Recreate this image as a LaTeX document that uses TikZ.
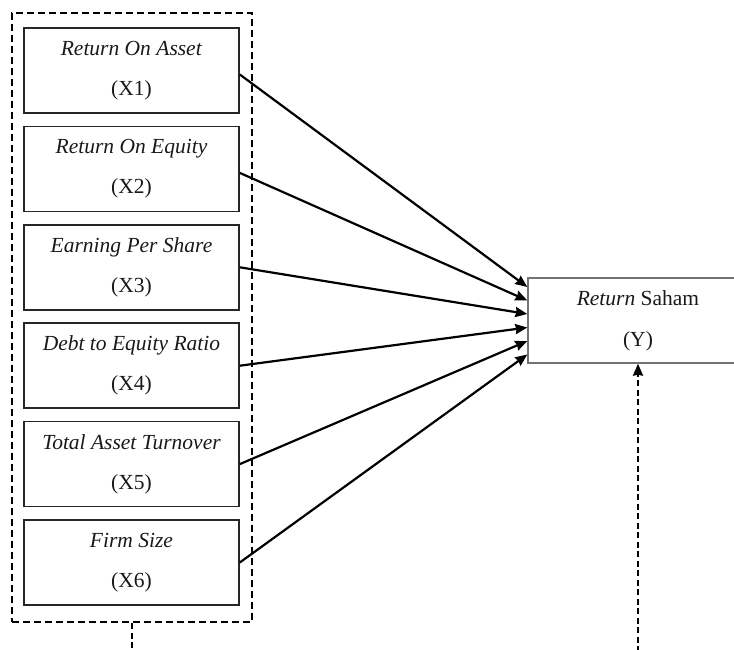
\documentclass[tikz,border=0pt]{standalone}
\usepackage{fontspec}
\setmainfont{Liberation Serif}
\usetikzlibrary{arrows.meta}
\tikzset{
  varbox/.style={draw=black!85, line width=1.6pt, minimum width=215pt, minimum height=85pt,
    align=center, inner sep=0pt, font=\fontsize{21.5}{40}\selectfont, text=black!90},
  ybox/.style={draw=black!55, line width=1.3pt, minimum width=220pt, minimum height=85pt,
    align=center, inner sep=0pt, font=\fontsize{21.5}{41}\selectfont, text=black!90},
  grpbox/.style={draw=black, line width=2.3pt, dash pattern=on 7pt off 4pt, minimum width=240pt, minimum height=609pt, inner sep=0pt},
  arr/.style={line width=2.2pt, -{Stealth[length=12pt,width=10pt,inset=1pt]}},
  dline/.style={line width=2.3pt, dash pattern=on 6pt off 3.5pt},
}
\begin{document}
\begin{tikzpicture}[x=1pt,y=-1pt]
\useasboundingbox (0,0) rectangle (734,650);
\node[grpbox] (grp) at (132,317.5) {};
\node[varbox] (b1) at (131.5,70.5) {\textit{Return On Asset}\\(X1)};
\node[varbox] (b2) at (131.5,168.9) {\textit{Return On Equity}\\(X2)};
\node[varbox] (b3) at (131.5,267.3) {\textit{Earning Per Share}\\(X3)};
\node[varbox] (b4) at (131.5,365.7) {\textit{Debt to Equity Ratio}\\(X4)};
\node[varbox] (b5) at (131.5,464.1) {\textit{Total Asset Turnover}\\(X5)};
\node[varbox] (b6) at (131.5,562.5) {\textit{Firm Size}\\(X6)};
\node[ybox] (y) at (638,320.5) {\textit{Return} Saham\\(Y)};
\draw[arr] ([yshift=-4pt]b1.east) -- (y.west |- 0,287);
\draw[arr] ([yshift=-4pt]b2.east) -- (y.west |- 0,300.5);
\draw[arr] (b3.east) -- (y.west |- 0,314);
\draw[arr] (b4.east) -- (y.west |- 0,327.5);
\draw[arr] (b5.east) -- (y.west |- 0,341);
\draw[arr] (b6.east) -- (y.west |- 0,354.5);
\coordinate (l1) at (132,652);
\coordinate (r1) at (638,652);
\draw[dline] (grp.south) -- (l1);
\draw[dline, -{Stealth[length=12pt,width=10pt,inset=1pt]}] (r1) -- (y.south);
\end{tikzpicture}
\end{document}
